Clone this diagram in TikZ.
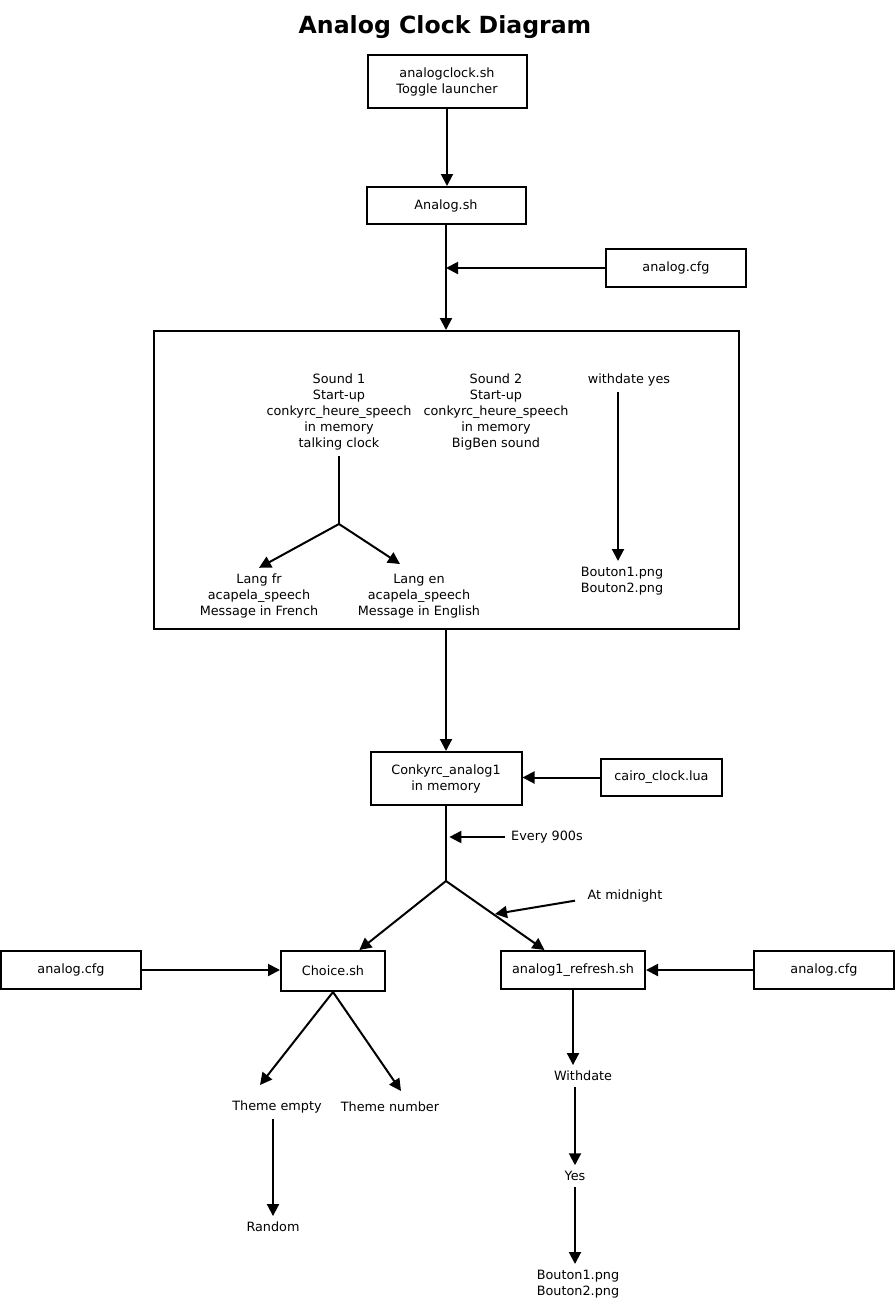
\documentclass[tikz,border=0pt]{standalone}
\usepackage{fontspec}
\setmainfont{DejaVu Sans}
\usetikzlibrary{arrows.meta}

\tikzset{
    box/.style={draw, line width=1.5pt, align=center, inner sep=2pt},
    lbl/.style={align=center, inner sep=0pt, outer sep=4.5pt},
}

\begin{document}
\begin{tikzpicture}[x=0.75pt, y=-0.75pt, line width=1.5pt, >={Triangle[length=9pt,width=9pt]},
    font=\fontsize{9.6pt}{12pt}\selectfont]
    \useasboundingbox (0,0) rectangle (896,1300);

    \node (title) at (445,27) {\fontsize{17.7pt}{20pt}\selectfont\bfseries Analog Clock Diagram};

    % top part
    \node[box, minimum width=119.25pt, minimum height=39.75pt] (launch) at (447,81.5) {analogclock.sh\\Toggle launcher};
    \node[box, minimum width=119.25pt, minimum height=27.75pt] (analogsh) at (446,205.5) {Analog.sh};
    \node[box, minimum width=105pt, minimum height=28.5pt] (cfgtop) at (676,268) {analog.cfg};
    \node[draw, line width=1.5pt, minimum width=438.75pt, minimum height=223.5pt] (frame) at (446.5,480) {};

    \draw[->] (launch) -- (launch |- analogsh.north);
    \draw[->] (analogsh) -- (analogsh |- frame.north);
    \draw[->] (cfgtop) -- (cfgtop -| analogsh);

    % inside the frame
    \node[lbl] (snd1) at (339,412) {Sound 1\\Start-up\\conkyrc\_heure\_speech\\in memory\\talking clock};
    \node[lbl] (snd2) at (496,412) {Sound 2\\Start-up\\conkyrc\_heure\_speech\\in memory\\BigBen sound};
    \node[lbl] (wdyes) at (629,380) {withdate yes};
    \node[lbl] (langfr) at (259,596) {Lang fr\\acapela\_speech\\Message in French};
    \node[lbl] (langen) at (419,596) {Lang en\\acapela\_speech\\Message in English};
    \node[lbl] (btnA) at (622,581) {Bouton1.png\\Bouton2.png};
    \coordinate (split1) at (339,524);
    \coordinate (enTip) at (400,564);

    \draw (snd1) -- (split1);
    \draw[->] (split1) -- (langfr.north);
    \draw[->] (split1) -- (enTip);
    \draw[->] ([xshift=-3pt]btnA.north |- wdyes.south) -- ([xshift=-3pt]btnA.north);

    % middle part
    \node[box, minimum width=113.25pt, minimum height=39.75pt] (conky) at (446,778.5) {Conkyrc\_analog1\\in memory};
    \node[box, minimum width=90.75pt, minimum height=27.75pt] (cairo) at (661.5,777.5) {cairo\_clock.lua};
    \node[lbl] (every) at (547,837) {Every 900s};
    \node[lbl] (midnight) at (625,896) {At midnight};
    \coordinate (split2) at (446,881);
    \coordinate (mnTip) at (495,914);

    \draw[->] (frame.south -| conky) -- (conky);
    \draw[->] (cairo.west) -- (cairo.west -| conky.east);
    \draw (conky) -- (split2);
    \draw[->] (every.west) -- ([xshift=2.5pt]every.west -| split2);
    \draw[->] ([shift={(-5pt,-3.5pt)}]midnight.west) -- (mnTip);

    % bottom part
    \node[box, minimum width=105pt, minimum height=28.5pt] (cfgleft) at (71,970) {analog.cfg};
    \node[box, minimum width=78pt, minimum height=30pt] (choice) at (333,971) {Choice.sh};
    \node[box, minimum width=108pt, minimum height=28.5pt] (refresh) at (573,970) {analog1\_refresh.sh};
    \node[box, minimum width=105pt, minimum height=28.5pt] (cfgright) at (824,970) {analog.cfg};

    \draw[->] (split2) -- (choice);
    \draw[->] (split2) -- (refresh);
    \draw[->] (cfgleft.east) -- (cfgleft.east -| choice.west);
    \draw[->] (cfgright) -- (refresh);

    \node[lbl] (thempty) at (277,1107) {Theme empty};
    \node[lbl] (thnumber) at (390,1107) {Theme number};
    \node[lbl] (random) at (273,1227) {Random};
    \coordinate (teTip) at (260,1085);
    \coordinate (tnTip) at (401,1091);

    \draw[->] (choice.south) -- (teTip);
    \draw[->] (choice.south) -- (tnTip);
    \draw[->] (random |- thempty.south) -- (random);

    \node[lbl] (withdate) at (583,1076) {Withdate};
    \node[lbl] (yes) at (575,1176) {Yes};
    \node[lbl] (btnB) at (578,1284) {Bouton1.png\\Bouton2.png};

    \draw[->] (refresh) -- (refresh |- withdate.north);
    \draw[->] (yes |- withdate.south) -- (yes);
    \draw[->] (yes) -- (yes |- btnB.north);
\end{tikzpicture}
\end{document}
